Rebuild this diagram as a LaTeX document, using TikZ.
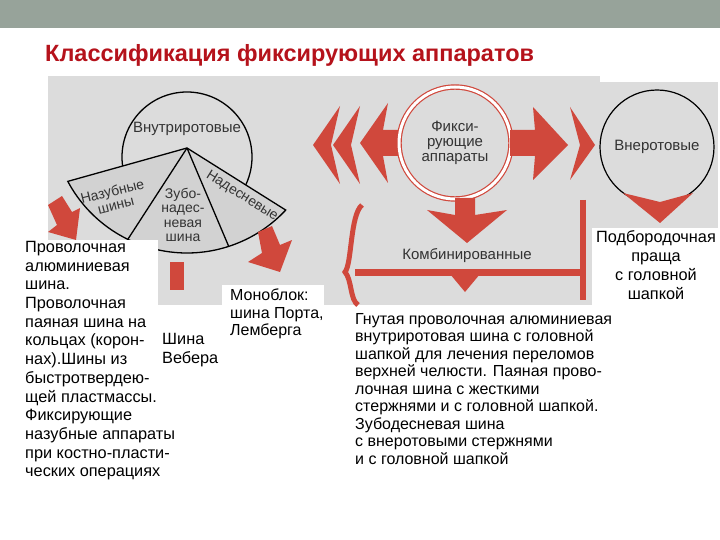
\documentclass[tikz,border=0pt]{standalone}
\usepackage{fontspec}
\setmainfont{Liberation Sans}
\usetikzlibrary{calc}
\definecolor{ared}{HTML}{D0483C}
\definecolor{tred}{HTML}{B5121B}
\definecolor{bar}{HTML}{97A39A}
\definecolor{pgray}{HTML}{DCDCDC}
\definecolor{fgray}{HTML}{D2D2D2}
\begin{document}
\begin{tikzpicture}[x=1pt,y=-1pt,
  txt/.style={anchor=north west,inner sep=0pt,font=\fontsize{16.3}{18.7}\selectfont,align=left},
  pic/.style={font=\fontsize{15}{15}\selectfont,text=black!80,align=center,inner sep=0pt},
  redf/.style={fill=ared,draw=none}]
\useasboundingbox (0,0) rectangle (720,540);
\fill[bar] (0,0) rectangle (720,28);
\node[anchor=west,text=tred,font=\bfseries\fontsize{23.5}{26}\selectfont,inner sep=0pt] (title) at (45,55) {Классификация фиксирующих аппаратов};
% photo background
\fill[pgray] (48,76) rectangle (600,305);
\fill[pgray] (590,82) rectangle (718,228);
% left circle and fan
\node[circle,draw,line width=1.3pt,fill=pgray,minimum size=130pt] (inner) at (187,157) {};
\node[pic] (innert) at (187,129) {Внутриротовые};
\coordinate (A) at (187,148);
\coordinate (C) at (187,118);
\filldraw[fill=fgray,line width=1.3pt] (A) -- ($(C)+(152:135)$) arc[start angle=152,end angle=43,radius=135] -- cycle;
\draw[line width=1.3pt] (A) -- ($(C)+(116:135)$) (A) -- ($(C)+(72:135)$);
\node[pic,rotate=14,font=\fontsize{14}{14.5}\selectfont] (naz) at (114,198) {Назубные\\шины};
\node[pic,rotate=-32,font=\fontsize{14}{14.5}\selectfont] (nad) at (242,196) {Надесневые};
\node[pic,font=\fontsize{14}{14.5}\selectfont] (zub) at (183,215) {Зубо-\\надес-\\невая\\шина};
% left red arrows
\foreach \x in {313,333} \fill[redf] (\x,145) -- (\x+27,106) -- (\x+18,145) -- (\x+27,184) -- cycle;
\fill[redf] (360,143) -- (388,103) -- (383,130) -- (405,130) -- (405,156) -- (383,156) -- (388,183) -- cycle;
% central circle
\node[circle,draw=ared,line width=1.2pt,double=white,double distance=3pt,fill=pgray,minimum size=112pt] (fix) at (455,143) {};
\node[pic] (fixt) at (455,143) {Фикси-\\рующие\\аппараты};
% right arrows
\fill[redf] (510,130) -- (535,130) -- (533,107) -- (568,145) -- (533,180) -- (535,156) -- (510,156) -- cycle;
\fill[redf] (570,107) -- (595,145) -- (570,180) -- (580,145) -- cycle;
% right circle
\node[circle,draw,line width=1.2pt,fill=pgray,minimum size=114pt] (ext) at (657,147) {};
\node[pic] (extt) at (657,147) {Внеротовые};
\fill[redf] (623,193) -- (660,202) -- (693,193) -- (660,223) -- cycle;
% down arrow to combined
\fill[redf] (455,198) -- (475,198) -- (475,215) -- (507,210) -- (467,243) -- (427,210) -- (455,215) -- cycle;
\node[pic] (comb) at (467,256) {Комбинированные};
% bracket
\draw[ared,line width=7pt] (355,272) -- (583,272);
\draw[ared,line width=6pt] (583,200) -- (583,300);
\draw[ared,line width=5pt] (362,205) .. controls (350,215) and (352,264) .. (345,272) .. controls (352,280) and (350,300) .. (358,305);
\fill[redf] (450,274) -- (480,274) -- (465,292) -- cycle;
% other red arrows
\fill[redf] (48,205) -- (62,196) -- (72,212) -- (80,208) -- (76,240) -- (48,232) -- (57,225) -- cycle;
\fill[redf] (170,262) rectangle (184,290);
\fill[redf] (258,232) -- (272,226) -- (280,245) -- (292,240) -- (280,272) -- (248,262) -- (262,253) -- cycle;
% white text boxes
\fill[white] (18,240) rectangle (158,485);
\fill[white] (150,325) rectangle (218,372);
\fill[white] (222,285) rectangle (324,345);
\fill[white] (348,307) rectangle (622,472);
\fill[white] (592,228) rectangle (720,306);
% texts
\node[txt] (t1) at (25,241) {Проволочная\\алюминиевая\\шина.\\Проволочная\\паяная шина на\\кольцах (корон-\\нах).Шины из\\быстротвердею-\\щей пластмассы.\\Фиксирующие\\назубные аппараты\\при костно-пласти-\\ческих операциях};
\node[txt] (t2) at (162,333) {Шина\\Вебера};
\node[txt,font=\fontsize{16}{17.5}\selectfont] (t3) at (230,289) {Моноблок:\\шина Порта,\\Лемберга};
\node[txt,font=\fontsize{16}{17.5}\selectfont] (t4) at (355,313) {Гнутая проволочная алюминиевая\\внутриротовая шина с головной\\шапкой для лечения переломов\\верхней челюсти. Паяная прово-\\лочная шина с жесткими\\стержнями и с головной шапкой.\\Зубодесневая шина\\с внеротовыми стержнями\\и с головной шапкой};
\node[txt,align=center,anchor=north,font=\fontsize{16.3}{19}\selectfont] (t5) at (656,230) {Подбородочная\\праща\\с головной\\шапкой};
\end{tikzpicture}
\end{document}
